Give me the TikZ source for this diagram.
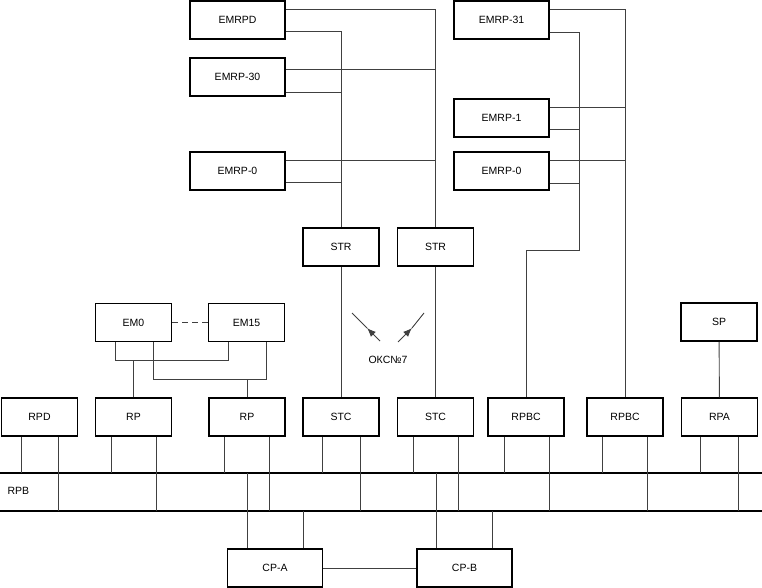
\documentclass[tikz,border=0pt]{standalone}
\usepackage{fontspec}
\setmainfont{Liberation Sans}
\usetikzlibrary{arrows.meta}
\begin{document}
\begin{tikzpicture}[x=1pt, y=-1pt,
    box/.style={draw, line width=1.5pt, minimum width=76pt, minimum height=38pt,
      inner sep=0pt, font=\fontsize{10.5}{12}\selectfont},
    wbox/.style={box, minimum width=95pt},
    wire/.style={draw=black!75, line width=0.9pt}]
  \useasboundingbox (0,0) rectangle (762,588);
  %%upper blocks
  \node[wbox] (EMRPD) at (237.5,20) {EMRPD};
  \node[wbox] (EMRP30) at (237.5,77) {EMRP-30};
  \node[wbox] (EMRP0a) at (237.5,171) {EMRP-0};
  \node[wbox] (EMRP31) at (501.5,20) {EMRP-31};
  \node[wbox] (EMRP1) at (501.5,118) {EMRP-1};
  \node[wbox] (EMRP0b) at (501.5,171) {EMRP-0};
  \node[box] (STR1) at (341,247) {STR};
  \node[box] (STR2) at (435.5,247) {STR};
  \node[box] (EM0) at (133.5,322.5) {EM0};
  \node[box] (EM15) at (246.5,322.5) {EM15};
  \node[box] (SP) at (719,322) {SP};
  %%row on the bus
  \foreach \n/\x/\t in {RPD/39.5/RPD, RP1/133.5/RP, RP2/247/RP, STC1/341/STC,
      STC2/435.5/STC, RPBC1/526/RPBC, RPBC2/625/RPBC, RPA/719.5/RPA}
    \node[box] (\n) at (\x,417) {\t};
  \node[wbox] (CPA) at (275,568) {CP-A};
  \node[wbox] (CPB) at (464.5,568) {CP-B};

  %%l trunks
  \draw[wire] (EMRPD.east |- 0,9) -| (STR2);
  \draw[wire] (EMRPD.east |- 0,31) -| (STR1);
  \draw[wire] (EMRP30.east |- 0,69) -- (STR2.north |- 0,69);
  \draw[wire] (EMRP30.east |- 0,92) -- (STR1.north |- 0,92);
  \draw[wire] (EMRP0a.east |- 0,160) -- (STR2.north |- 0,160);
  \draw[wire] (EMRP0a.east |- 0,182) -- (STR1.north |- 0,182);
  \draw[wire] (STR1) -- (STC1);
  \draw[wire] (STR2) -- (STC2);

  %%r trunks
  \coordinate (bend) at (579,250);
  \draw[wire] (EMRP31.east |- 0,9) -| (RPBC2);
  \draw[wire] (EMRP31.east |- 0,32) -| (bend) -| (RPBC1);
  \draw[wire] (EMRP1.east |- 0,107) -- (RPBC2.north |- 0,107);
  \draw[wire] (EMRP1.east |- 0,129) -- (bend |- 0,129);
  \draw[wire] (EMRP0b.east |- 0,160) -- (RPBC2.north |- 0,160);
  \draw[wire] (EMRP0b.east |- 0,183) -- (bend |- 0,183);
  \draw[wire] (SP) -- (RPA);

  %%em
  \draw[wire, dashed, dash pattern=on 6pt off 4pt] (EM0) -- (EM15);
  \draw[wire] (EM0.south -| 115,0) |- (228,360) -- (EM15.south -| 228,0);
  \draw[wire] (EM0.south -| 153,0) |- (266,379) -- (EM15.south -| 266,0);
  \draw[wire] (RP1) -- (RP1.north |- 0,360);
  \draw[wire] (RP2) -- (RP2.north |- 0,379);

  %%okc
  \coordinate (la) at (380,341);
  \coordinate (lt) at (367,328);
  \coordinate (lb) at (352,313);
  \coordinate (ra) at (398,342);
  \coordinate (rt) at (412,328);
  \coordinate (rb) at (424,313);
  \draw[wire, -{Latex[length=9pt,width=7pt]}] (la) -- (lt);
  \draw[wire] (lt) -- (lb);
  \draw[wire, -{Latex[length=9pt,width=7pt]}] (ra) -- (rt);
  \draw[wire] (rt) -- (rb);
  \node[font=\fontsize{10.5}{12}\selectfont] (okc) at (388,360) {ОКС№7};

  %%bus
  \coordinate (busU) at (0,473);
  \coordinate (busL) at (0,511);
  \draw[line width=1.2pt] (busU) -- (762,473);
  \draw[line width=1.2pt] (busL) -- (762,511);
  \node[font=\fontsize{10.5}{12}\selectfont, anchor=west] (rpb) at (4,491) {RPB};
  \foreach \n/\a/\b in {RPD/21/58, RP1/111/156, RP2/224/269, STC1/322/360,
      STC2/413/458, RPBC1/504/549, RPBC2/602/647, RPA/700/738} {
    \draw[wire] (\n.south -| \a,0) -- (busU -| \a,0);
    \draw[wire] (\n.south -| \b,0) -- (busL -| \b,0);
  }
  %%cp
  \draw[wire] (CPA.north -| 247,0) -- (busU -| 247,0);
  \draw[wire] (CPA.north -| 303,0) -- (busL -| 303,0);
  \draw[wire] (CPB.north -| 436,0) -- (busU -| 436,0);
  \draw[wire] (CPB.north -| 492,0) -- (busL -| 492,0);
  \draw[wire] (CPA) -- (CPB);
\end{tikzpicture}
\end{document}
